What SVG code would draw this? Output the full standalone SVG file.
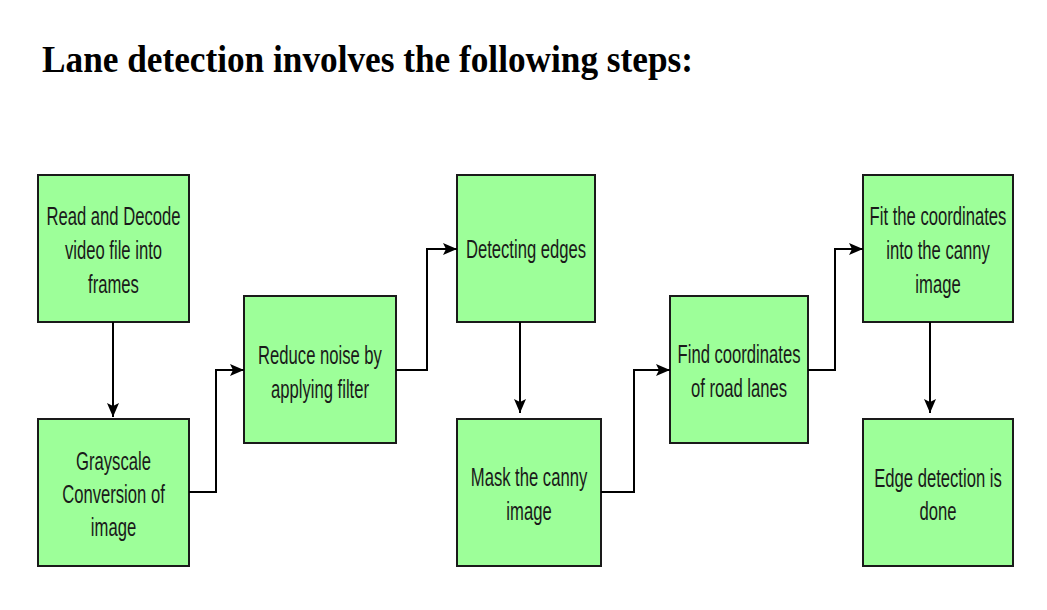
<svg xmlns="http://www.w3.org/2000/svg" width="1047" height="610" viewBox="0 0 1047 610">
<defs>
<marker id="ah" viewBox="0 0 14 12" refX="14" refY="6" markerWidth="14" markerHeight="12" markerUnits="userSpaceOnUse" orient="auto">
<path d="M0,0 L14,6 L0,12 L3,6 Z" fill="#000"/>
</marker>
<style>
.box{fill:#9dff99;stroke:#1a1a1a;stroke-width:2}
.lbl{font-family:"Liberation Sans",Arial,sans-serif;font-size:26px;fill:#1a1a1a;text-anchor:middle}
.con{fill:none;stroke:#000;stroke-width:2;marker-end:url(#ah)}
.title{font-family:"Liberation Serif","Times New Roman",serif;font-weight:bold;font-size:38px;fill:#000}
</style>
</defs>
<rect width="1047" height="610" fill="#fff"/>
<text class="title" x="42" y="72" textLength="651" lengthAdjust="spacingAndGlyphs">Lane detection involves the following steps:</text>
<g id="n1"><rect class="box" x="38" y="175" width="151" height="147"/>
<text class="lbl" transform="translate(113.5,0) scale(0.64,1)"><tspan x="0" y="225">Read and Decode</tspan><tspan x="0" y="259">video file into</tspan><tspan x="0" y="293">frames</tspan></text></g>
<g id="n2"><rect class="box" x="38" y="419" width="151" height="147"/>
<text class="lbl" transform="translate(113.5,0) scale(0.64,1)"><tspan x="0" y="470">Grayscale</tspan><tspan x="0" y="503">Conversion of</tspan><tspan x="0" y="536">image</tspan></text></g>
<g id="n3"><rect class="box" x="244" y="296" width="152" height="147"/>
<text class="lbl" transform="translate(320,0) scale(0.64,1)"><tspan x="0" y="364">Reduce noise by</tspan><tspan x="0" y="398">applying filter</tspan></text></g>
<g id="n4"><rect class="box" x="457" y="175" width="138" height="147"/>
<text class="lbl" transform="translate(526,0) scale(0.64,1)"><tspan x="0" y="258">Detecting edges</tspan></text></g>
<g id="n5"><rect class="box" x="457" y="419" width="144" height="147"/>
<text class="lbl" transform="translate(529,0) scale(0.64,1)"><tspan x="0" y="486">Mask the canny</tspan><tspan x="0" y="520">image</tspan></text></g>
<g id="n6"><rect class="box" x="670" y="296" width="138" height="147"/>
<text class="lbl" transform="translate(739,0) scale(0.64,1)"><tspan x="0" y="363">Find coordinates</tspan><tspan x="0" y="397">of road lanes</tspan></text></g>
<g id="n7"><rect class="box" x="863" y="175" width="150" height="147"/>
<text class="lbl" transform="translate(938,0) scale(0.64,1)"><tspan x="0" y="225">Fit the coordinates</tspan><tspan x="0" y="259">into the canny</tspan><tspan x="0" y="293">image</tspan></text></g>
<g id="n8"><rect class="box" x="863" y="419" width="150" height="147"/>
<text class="lbl" transform="translate(938,0) scale(0.64,1)"><tspan x="0" y="487">Edge detection is</tspan><tspan x="0" y="520">done</tspan></text></g>
<g id="connectors">
<path class="con" d="M113,322 V417"/>
<path class="con" d="M189,492 H216 V370 H244"/>
<path class="con" d="M396,370 H427 V249 H457"/>
<path class="con" d="M520,322 V413"/>
<path class="con" d="M601,492 H634 V370 H670"/>
<path class="con" d="M808,370 H835 V249 H863"/>
<path class="con" d="M930,322 V413"/>
</g>
</svg>
